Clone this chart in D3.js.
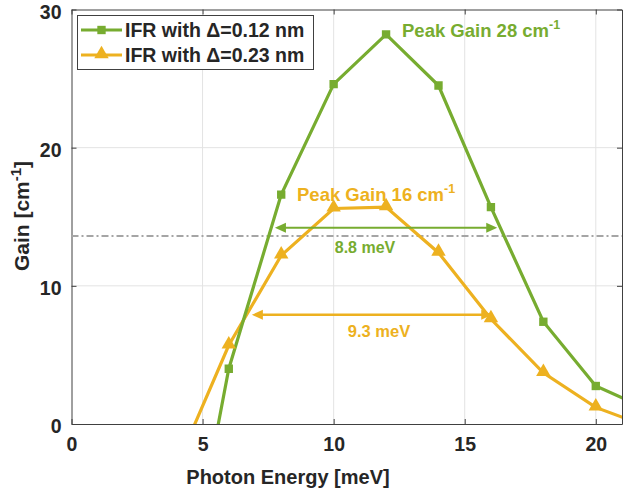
<!DOCTYPE html>
<html>
<head>
<meta charset="utf-8">
<script src="https://cdn.jsdelivr.net/npm/d3@7"></script>
<style>
  html, body { margin: 0; padding: 0; background: #fff; }
  svg { display: block; font-family: "Liberation Sans", Arial, sans-serif; font-weight: bold; }
</style>
</head>
<body>
<svg id="chart" width="626" height="493"></svg>
<script>
// ---- data ----
const energy      = [4, 6, 8, 10, 12, 14, 16, 18, 20, 22];
const gainNarrow  = [-16, 4.0, 16.6, 24.6, 28.2, 24.5, 15.7, 7.4, 2.75, 1.05];
const gainWide    = [-3.1, 5.7, 12.2, 15.6, 15.7, 12.4, 7.6, 3.7, 1.2, -0.2];
const seriesNames = ["IFR with \u0394=0.12 nm", "IFR with \u0394=0.23 nm"];
const xTicks = [0, 5, 10, 15, 20];
const yTicks = [0, 10, 20, 30];
const threshold = 13.6;
const fwhmNarrow = [7.76, 16.24, 14.2];
const fwhmWide   = [6.88, 16.05, 7.9];
const fwhmLabels = ["8.8 meV", "9.3 meV"];
const peakLabels = ["Peak Gain 28 cm", "Peak Gain 16 cm"];

const green = "#77AC30", orange = "#EDB120";

const svg = d3.select("#chart");
const L = 71.5, R = 622, T = 9.5, B = 424;
const x = d3.scaleLinear().domain([0, 21]).range([L, R]);
const y = d3.scaleLinear().domain([0, 30]).range([B, T]);

svg.append("defs").append("clipPath").attr("id", "clip")
  .append("rect").attr("x", L).attr("y", T).attr("width", R - L).attr("height", B - T);

// grid
const grid = svg.append("g").attr("stroke", "#e3e3e3").attr("stroke-width", 1);
xTicks.filter(d => d > 0).forEach(d => grid.append("line")
  .attr("x1", x(d)).attr("x2", x(d)).attr("y1", T).attr("y2", B));
yTicks.filter(d => d > 0 && d < 30).forEach(d => grid.append("line")
  .attr("x1", L).attr("x2", R).attr("y1", y(d)).attr("y2", y(d)));

// axes
const axisColor = "#404040";
const xAxis = svg.append("g").attr("transform", `translate(0,${B})`)
  .call(d3.axisBottom(x).tickValues(xTicks).tickSizeInner(-5).tickSizeOuter(0).tickPadding(10));
const xTop = svg.append("g").attr("transform", `translate(0,${T})`)
  .call(d3.axisTop(x).tickValues(xTicks).tickSizeInner(-5).tickSizeOuter(0).tickFormat(""));
const yAxis = svg.append("g").attr("transform", `translate(${L},0)`)
  .call(d3.axisLeft(y).tickValues(yTicks).tickSizeInner(-5).tickSizeOuter(0).tickPadding(10));
const yRight = svg.append("g").attr("transform", `translate(${R},0)`)
  .call(d3.axisRight(y).tickValues(yTicks).tickSizeInner(-5).tickSizeOuter(0).tickFormat(""));
[xAxis, xTop, yAxis, yRight].forEach(a => {
  a.selectAll("path").attr("stroke", axisColor).attr("stroke-width", 1);
  a.selectAll("line").attr("stroke", axisColor);
  a.selectAll("text").attr("fill", "#262626").style("font-size", "19.5px").style("font-weight", "bold")
    .style("font-family", "'Liberation Sans', Arial, sans-serif");
});
xAxis.selectAll("text").attr("dy", "0.85em");
yAxis.selectAll("text").attr("dy", "0.45em");

// axis titles
svg.append("text").attr("x", 288).attr("y", 484).attr("text-anchor", "middle")
  .attr("fill", "#262626").style("font-size", "20px").text("Photon Energy [meV]");
const yt = svg.append("text").attr("transform", `translate(29,216) rotate(-90)`)
  .attr("text-anchor", "middle").attr("fill", "#262626").style("font-size", "21px");
yt.append("tspan").text("Gain [cm");
yt.append("tspan").attr("dy", -8).style("font-size", "15px").text("-1");
yt.append("tspan").attr("dy", 8).text("]");

// threshold dash-dot line
svg.append("line").attr("x1", L).attr("x2", R).attr("y1", y(threshold)).attr("y2", y(threshold))
  .attr("stroke", "#a5a5a5").attr("stroke-width", 2).attr("stroke-dasharray", "7,3,2,3");

// series
const plot = svg.append("g").attr("clip-path", "url(#clip)");
const line = d3.line().x(d => x(d[0])).y(d => y(d[1]));
const ptsN = energy.map((e, i) => [e, gainNarrow[i]]);
const ptsW = energy.map((e, i) => [e, gainWide[i]]);

plot.append("path").datum(ptsW).attr("d", line).attr("fill", "none")
  .attr("stroke", orange).attr("stroke-width", 3.2);
plot.append("path").datum(ptsN).attr("d", line).attr("fill", "none")
  .attr("stroke", green).attr("stroke-width", 3.2);

const tri = d3.symbol().type(d3.symbolTriangle).size(90);
const sq = d3.symbol().type(d3.symbolSquare).size(70);
plot.selectAll(".mw").data(ptsW).join("path").attr("d", tri)
  .attr("transform", d => `translate(${x(d[0])},${y(d[1]) - 1})`).attr("fill", orange);
plot.selectAll(".mn").data(ptsN).join("path").attr("d", sq)
  .attr("transform", d => `translate(${x(d[0])},${y(d[1])})`).attr("fill", green);

// double arrows
function dblArrow(a, color, w) {
  const g = svg.append("g");
  const x0 = x(a[0]), x1 = x(a[1]), yy = y(a[2]);
  const hl = 11, hw = 5;
  g.append("line").attr("x1", x0 + 4).attr("x2", x1 - 4).attr("y1", yy).attr("y2", yy)
    .attr("stroke", color).attr("stroke-width", w);
  g.append("path").attr("d", `M${x0},${yy}L${x0 + hl},${yy - hw}L${x0 + hl},${yy + hw}Z`).attr("fill", color);
  g.append("path").attr("d", `M${x1},${yy}L${x1 - hl},${yy - hw}L${x1 - hl},${yy + hw}Z`).attr("fill", color);
}
dblArrow(fwhmNarrow, green, 2);
dblArrow(fwhmWide, orange, 2.5);

svg.append("text").attr("x", 365).attr("y", 253).attr("text-anchor", "middle")
  .attr("fill", green).style("font-size", "16px").text(fwhmLabels[0]);
svg.append("text").attr("x", 379).attr("y", 337).attr("text-anchor", "middle")
  .attr("fill", orange).style("font-size", "16.5px").text(fwhmLabels[1]);

// peak labels
function peak(label, px, py, color) {
  const t = svg.append("text").attr("x", px).attr("y", py).attr("fill", color).style("font-size", "18.5px");
  t.append("tspan").text(label);
  t.append("tspan").attr("dy", -8).style("font-size", "12.5px").text("-1");
}
peak(peakLabels[0], 402, 37, green);
peak(peakLabels[1], 297, 201, orange);

// legend
const lg = svg.append("g");
lg.append("rect").attr("x", 77.5).attr("y", 15.5).attr("width", 236).attr("height", 54)
  .attr("fill", "#fff").attr("stroke", "#404040").attr("stroke-width", 1);
[[green, sq, 30], [orange, tri, 55]].forEach(([c, sym, yy], i) => {
  lg.append("line").attr("x1", 81).attr("x2", 122).attr("y1", yy).attr("y2", yy)
    .attr("stroke", c).attr("stroke-width", 3.2);
  lg.append("path").attr("d", sym).attr("transform", `translate(101.5,${yy - (i ? 1 : 0)})`).attr("fill", c);
  lg.append("text").attr("x", 125).attr("y", yy + 7).attr("fill", "#262626")
    .style("font-size", "19.5px").text(seriesNames[i]);
});
</script>
</body>
</html>
